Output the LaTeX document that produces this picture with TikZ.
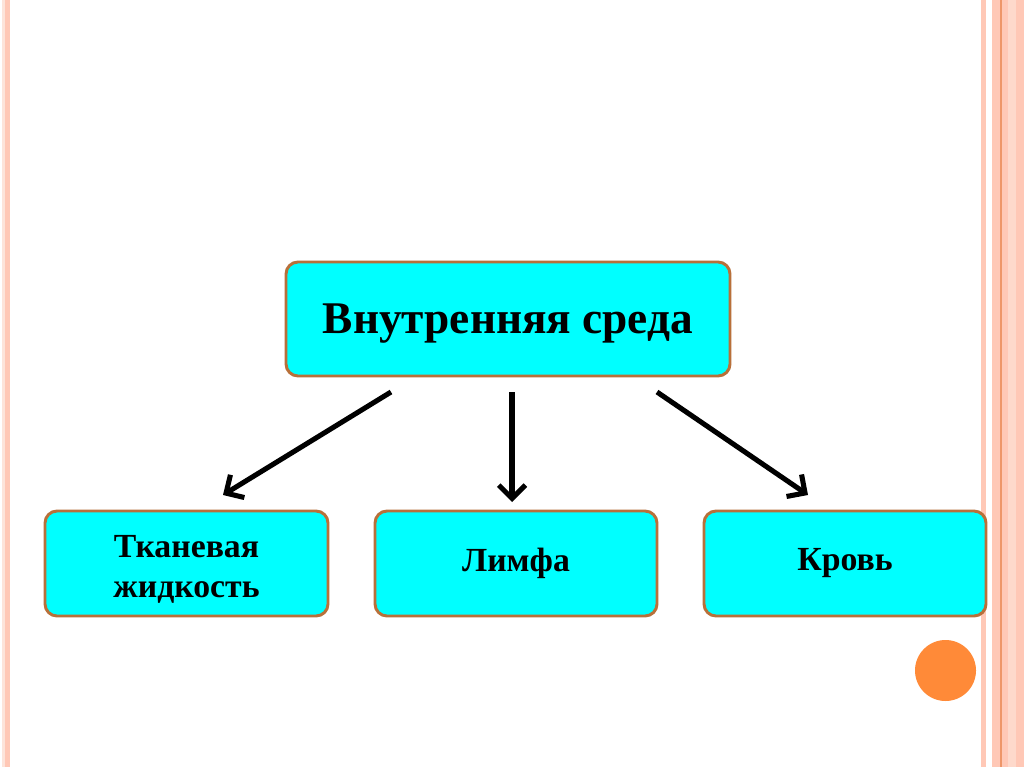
\documentclass[tikz,border=0pt]{standalone}
\usepackage{fontspec}
\setmainfont{Liberation Serif}
\usetikzlibrary{arrows.meta}
\definecolor{boxfill}{RGB}{0,255,255}
\definecolor{boxline}{RGB}{184,112,58}
\definecolor{stripe}{RGB}{255,200,182}
\definecolor{stripelight}{RGB}{253,228,218}
\definecolor{stripedark}{RGB}{238,150,105}
\definecolor{dotorange}{RGB}{255,138,56}
\tikzset{
  box/.style={draw=boxline, line width=2.2pt, fill=boxfill, rounded corners=9pt,
    align=center, inner sep=0pt, font=\bfseries},
  arr/.style={line width=3.8pt, -{Straight Barb[length=10pt,width=20pt,line width=3.8pt]}}
}
\begin{document}
\begin{tikzpicture}[x=0.75pt,y=-0.75pt]
\useasboundingbox (0,0) rectangle (1024,767);
\fill[white] (0,0) rectangle (1024,767);
% left stripes
\fill[stripelight] (2,0) rectangle (5,767);
\fill[stripe] (5,0) rectangle (9.5,767);
% right stripes
\fill[stripe] (981,0) rectangle (985.5,767);
\fill[stripe] (992,0) rectangle (1024,767);
\fill[stripelight!60!stripe] (1008,0) rectangle (1016,767);
\fill[stripedark] (999.5,0) rectangle (1001.5,767);
% orange dot
\fill[dotorange] (945.5,670.5) circle (30.5);
% nodes
\node[box, minimum width=333pt, minimum height=85.5pt] (top) at (508,319) {};
\node[font=\bfseries\fontsize{34}{41}\selectfont, inner sep=0pt] (toptext) at (508,324) {Внутренняя среда};
\node[box, minimum width=212.25pt, minimum height=78.75pt] (tiss) at (186.5,563.5) {};
\node[font=\bfseries\fontsize{25.3}{30}\selectfont, align=center, inner sep=0pt] (tisstext) at (186.5,569) {Тканевая\\жидкость};
\node[box, minimum width=211.5pt, minimum height=78.75pt, font=\bfseries\fontsize{25.3}{28.5}\selectfont]
  (lymph) at (516,563.5) {Лимфа};
\node[box, minimum width=211.5pt, minimum height=78.75pt, font=\bfseries\fontsize{25.3}{28.5}\selectfont]
  (blood) at (845,563.5) {Кровь};
% arrow end points
\coordinate (s1) at (391,392);
\coordinate (e1) at (223,495);
\coordinate (s2) at (512,392);
\coordinate (e2) at (512,502);
\coordinate (s3) at (657,392);
\coordinate (e3) at (808,495);
\draw[arr] (s1) -- (e1);
\draw[arr] (s2) -- (e2);
\draw[arr] (s3) -- (e3);
\end{tikzpicture}
\end{document}
